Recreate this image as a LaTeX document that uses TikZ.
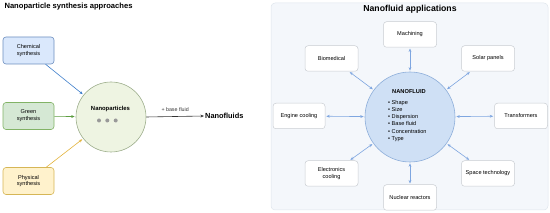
\documentclass[tikz,border=0pt]{standalone}
\usepackage{fontspec}
\setmainfont{Liberation Sans}
\usetikzlibrary{arrows.meta, positioning}
\definecolor{chemFill}{HTML}{DAE8FC}
\definecolor{chemLine}{HTML}{6C8EBF}
\definecolor{chemArrow}{HTML}{3F7FCB}
\definecolor{greenFill}{HTML}{D5E8D4}
\definecolor{greenLine}{HTML}{82B366}
\definecolor{greenArrow}{HTML}{5E9E42}
\definecolor{physFill}{HTML}{FFF2CC}
\definecolor{physLine}{HTML}{D6B656}
\definecolor{physArrow}{HTML}{E2B33C}
\definecolor{npFill}{HTML}{EEF4E2}
\definecolor{npLine}{HTML}{9DAE8C}
\definecolor{panelFill}{HTML}{F4F7FB}
\definecolor{panelLine}{HTML}{DFE5EC}
\definecolor{nfFill}{HTML}{CFE0F5}
\definecolor{nfLine}{HTML}{8DAEDA}
\definecolor{linkBlue}{HTML}{7EA6E0}
\definecolor{appLine}{HTML}{C9CDD2}

\begin{document}
\begin{tikzpicture}[x=1pt, y=-1pt, >={Stealth[length=3.5pt,width=2.8pt]},
  src/.style={draw, rounded corners=3pt, minimum width=51pt, minimum height=27pt,
              align=center, font=\fontsize{5.6}{6.8}\selectfont, line width=0.6pt},
  app/.style={draw=appLine, fill=white, rounded corners=3pt, minimum width=53pt,
              minimum height=25.5pt, align=center, font=\fontsize{5.6}{6.8}\selectfont,
              line width=0.5pt},
  link/.style={<->, draw=linkBlue, line width=0.6pt, shorten <=1pt, shorten >=1pt},
  ttl/.style={font=\fontsize{7.6}{9}\selectfont\bfseries}]

  \useasboundingbox (0,0) rectangle (550,213);

  % synthesis side
  \node[ttl, anchor=west] (lefttitle) at (1,6.5) {Nanoparticle synthesis approaches};
  \node[src, fill=chemFill, draw=chemLine] (chem) at (28.5,50.5) {Chemical\\synthesis};
  \node[src, fill=greenFill, draw=greenLine] (green) at (28.5,116) {Green\\synthesis};
  \node[src, fill=physFill, draw=physLine] (phys) at (28.5,181) {Physical\\synthesis};
  \node[circle, draw=npLine, fill=npFill, minimum size=70pt, line width=0.6pt] (np) at (111,117) {};
  \node[font=\fontsize{5.9}{7}\selectfont\bfseries] (nplabel) at (110.5,109) {Nanoparticles};
  \foreach \x/\n in {99/a,107.3/b,115.7/c}
    \node[circle, fill=gray!80, inner sep=0pt, minimum size=4pt] (dot\n) at (\x,120.5) {};
  \node[font=\fontsize{7.4}{9}\selectfont\bfseries, anchor=west, inner sep=1pt] (fluids) at (204,116) {Nanofluids};

  \draw[->, chemArrow, line width=0.6pt, shorten >=1pt] (chem) -- (np);
  \draw[->, greenArrow, line width=0.6pt, shorten >=1pt] (green) -- (np);
  \draw[->, physArrow, line width=0.6pt, shorten >=1pt] (phys) -- (np);
  \draw[->, black!80, line width=0.6pt] (np.east) -- (fluids.west)
    node[midway, above=1pt, font=\fontsize{5.3}{6}\selectfont]{+ base fluid};

  % applications side
  \node[draw=panelLine, fill=panelFill, rounded corners=4pt, minimum width=277pt,
        minimum height=207pt, line width=0.5pt] (panel) at (409.5,106.5) {};
  \node[font=\fontsize{8.7}{10}\selectfont\bfseries] (righttitle) at (410,9.5) {Nanofluid applications};
  \node[circle, draw=nfLine, fill=nfFill, minimum size=90pt, line width=0.6pt] (nf) at (410,117) {};
  \node[font=\fontsize{5.7}{7}\selectfont\bfseries] (nftitle) at (409,92) {NANOFLUID};
  \node[font=\fontsize{5.6}{7.2}\selectfont, align=left, anchor=north west, inner sep=0pt] (nflist) at (388,100)
    {• Shape\\• Size\\• Dispersion\\• Base fluid\\• Concentration\\• Type};

  \node[app] (mach)  at (410,34.5)  {Machining};
  \node[app] (bio)   at (331.5,58.5){Biomedical};
  \node[app] (solar) at (488,58.5)  {Solar panels};
  \node[app, minimum width=52pt] (engine) at (299,116) {Engine cooling};
  \node[app] (trans) at (521,116)   {Transformers};
  \node[app] (elec)  at (331.5,173.5){Electronics\\cooling};
  \node[app] (space) at (488,173.5) {Space technology};
  \node[app] (nuc)   at (410,197.5) {Nuclear reactors};

  \foreach \b in {mach,bio,solar,engine,trans,elec,space,nuc}
    \draw[link] (\b) -- (nf);

\end{tikzpicture}
\end{document}
